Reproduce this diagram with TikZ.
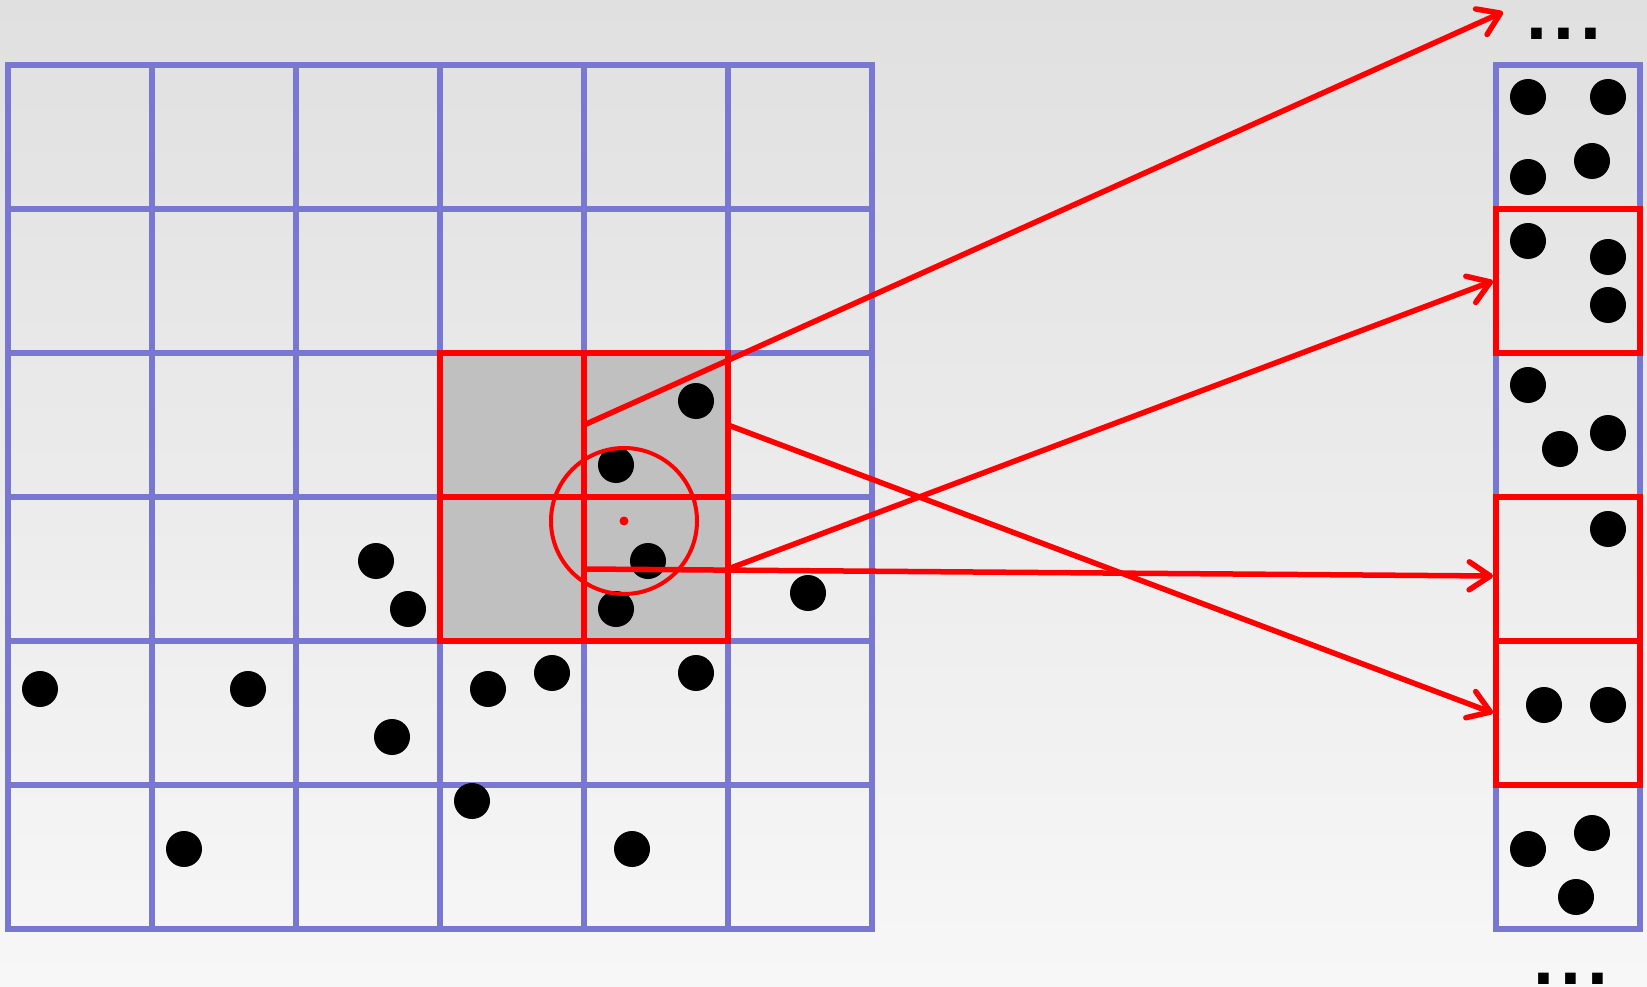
\documentclass[tikz,border=0pt]{standalone}
\usepackage{fontspec}
\newfontfamily\dotfont{DejaVu Sans}
\usetikzlibrary{arrows.meta}
\definecolor{gridblue}{RGB}{120,120,210}
\definecolor{hlgray}{RGB}{192,192,192}
\definecolor{bgtop}{RGB}{224,224,224}
\definecolor{bgbot}{RGB}{247,247,247}
\begin{document}
\begin{tikzpicture}[x=1pt,y=-1pt,
  bluegrid/.style={draw=gridblue,line width=6pt,line cap=rect},
  redline/.style={draw=red,line width=5.5pt},
  ball/.style={fill=black},
  ring/.style={draw=red,line width=4pt},
  link/.style={draw=red,line width=5.5pt,line cap=round,-{Straight Barb[length=21pt,width=28pt,line cap=round,line join=round]}},
  dots/.style={inner sep=0pt,anchor=base,font=\dotfont\bfseries\fontsize{60}{60}\selectfont}]
\useasboundingbox (0,0) rectangle (1647,987);
\shade[top color=bgtop,bottom color=bgbot] (0,0) rectangle (1647,987);
% left grid
\foreach \i in {0,...,6} {
  \draw[bluegrid] ({8+144*\i},65) -- ({8+144*\i},929);
  \draw[bluegrid] (8,{65+144*\i}) -- (872,{65+144*\i});
  \draw[bluegrid] (1496,{65+144*\i}) -- (1640,{65+144*\i});
}
% right column
\draw[bluegrid] (1496,65) -- (1496,929);
\draw[bluegrid] (1640,65) -- (1640,929);
% highlighted block
\fill[hlgray] (440,353) rectangle (728,641);
% dots (16px sub-grid, origin 8,65)
\begin{scope}[shift={(8,65)},x=16pt,y=-16pt]
  \foreach \p in {(2,39),(15,39),(11,49),(23,31),(25,34),(24,42),(30,39),(34,38),
                  (29,46),(38,25),(43,21),(40,31),(38,34),(43,38),(50,33),(39,49),
                  (95,2),(100,2),(99,6),(95,7),
                  (95,11),(100,12),(100,15),
                  (95,20),(100,23),(97,24),
                  (100,29),
                  (96,40),(100,40),
                  (99,48),(95,49),(98,52)}
    \fill[ball] \p circle (18pt);
\end{scope}
% red lines
\draw[redline] (440,353) rectangle (728,641) (584,353) -- (584,641) (440,497) -- (728,497);
\draw[redline] (1496,209) rectangle (1640,353);
\draw[redline] (1496,497) rectangle (1640,785) (1496,641) -- (1640,641);
% circle
\draw[ring] (624,521) circle (73);
\fill[red] (624,521) circle (4.5);
% arrows
\coordinate (a1s) at (584,425); \coordinate (a1e) at (1503,12);
\coordinate (a2s) at (728,569); \coordinate (a2e) at (1493,281);
\coordinate (a3s) at (584,569); \coordinate (a3e) at (1493,576);
\coordinate (a4s) at (728,425); \coordinate (a4e) at (1493,713);
\draw[link] (a1s) -- (a1e);
\draw[link] (a2s) -- (a2e);
\draw[link] (a3s) -- (a3e);
\draw[link] (a4s) -- (a4e);
% ellipses
\node[dots] (topdots) at (1564,40) {.\kern4pt.\kern4pt.};
\node[dots] (botdots) at (1571,984) {.\kern4pt.\kern4pt.};
\end{tikzpicture}
\end{document}
